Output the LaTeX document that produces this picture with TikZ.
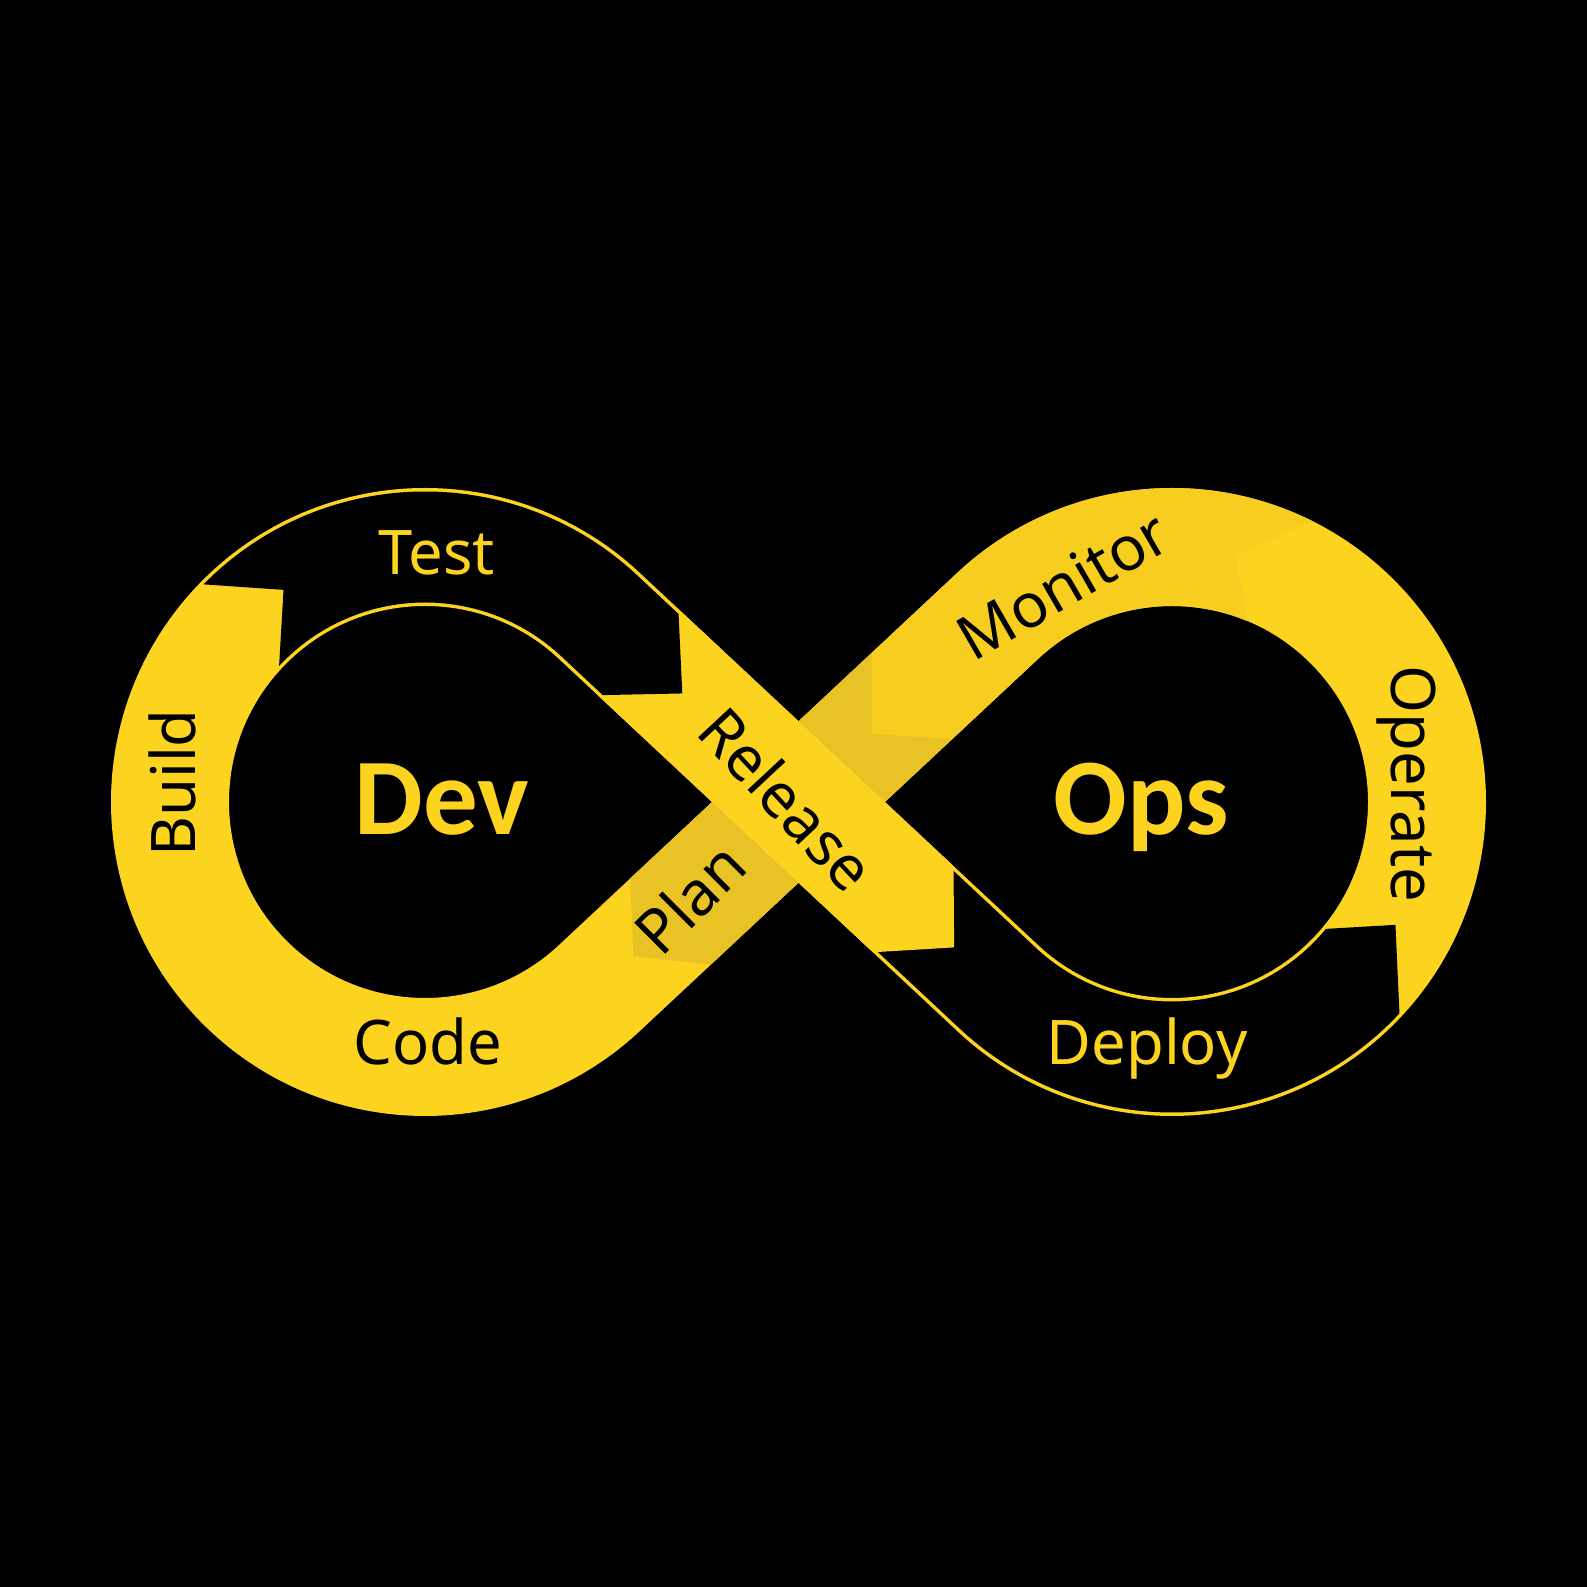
\documentclass[tikz,border=0pt]{standalone}
\usepackage{fontspec}
\setmainfont{Noto Sans}
\newfontfamily\namefont{Carlito}
\usetikzlibrary{calc}
\definecolor{devyellow}{RGB}{252,211,30}
\definecolor{plandark}{RGB}{233,194,38}
\definecolor{monshade}{RGB}{247,206,32}
\tikzstyle{band} = [line width=1.18cm, draw=devyellow]
\tikzstyle{stage} = [font=\fontsize{17.5}{21}\selectfont, text=black, inner sep=0pt]
\tikzstyle{darkstage} = [font=\fontsize{17.5}{21}\selectfont, text=devyellow, inner sep=0pt]
\tikzstyle{loopname} = [font=\namefont\bfseries\fontsize{31}{36}\selectfont, text=devyellow, inner sep=0pt]

\begin{document}
\begin{tikzpicture}

% Background
\fill[black] (0,0) rectangle (15.87,15.87);
\useasboundingbox (0,0) rectangle (15.87,15.87);

% Centres of the two loops and the crossing
\coordinate (c1) at (4.25,7.85);
\coordinate (c2) at (11.72,7.85);
\coordinate (x) at (7.985,7.85);

% Infinity band
\draw[band] (x) -- ($(c1)+(46.95:2.55)$) arc[start angle=46.95, end angle=313.05, radius=2.55]
  -- (x) -- ($(c2)+(133.05:2.55)$) arc[start angle=133.05, end angle=-133.05, radius=2.55] -- cycle;

% Plan piece (under Release)
\fill[plandark] ($(x)+(43.05:1.55)+(133.05:0.59)$) -- ($(x)+(223.05:1.75)+(133.05:0.59)$)
  -- ($(x)+(223.05:2.26)$) -- ($(x)+(223.05:1.75)+(313.05:0.59)$)
  -- ($(x)+(43.05:1.55)+(313.05:0.59)$) -- cycle;

% Monitor piece
\fill[monshade] ($(x)+(43.05:1.55)+(133.05:0.59)$) -- ($(x)+(43.05:1.0)$)
  -- ($(x)+(43.05:1.55)+(313.05:0.59)$) -- ($(c2)+(133.05:1.96)$)
  arc[start angle=133.05, end angle=67.1, radius=1.96] -- ($(c2)+(75.7:2.55)$)
  -- ($(c2)+(63.4:3.14)$) arc[start angle=63.4, end angle=133.05, radius=3.14] -- cycle;

% Deploy piece (black, outlined)
\fill[black] ($(x)+(-43.05:1.5)+(46.95:0.555)$) -- ($(c2)+(226.95:1.995)$)
  arc[start angle=226.95, end angle=320.5, radius=1.995] -- ($(c2)+(-28.8:2.55)$)
  -- ($(c2)+(317.1:3.105)$) arc[start angle=317.1, end angle=226.95, radius=3.105]
  -- ($(x)+(-43.05:1.5)+(226.95:0.555)$) -- cycle;

% Release piece
\fill[devyellow] ($(x)+(136.95:2.2)+(46.95:0.59)$) -- ($(x)+(-43.05:1.57)+(46.95:0.59)$)
  -- ($(x)+(-43.05:2.13)$) -- ($(x)+(-43.05:1.57)+(226.95:0.59)$)
  -- ($(x)+(136.95:2.2)+(226.95:0.59)$) -- cycle;

% Test piece (black, outlined)
\fill[black] ($(c1)+(135.5:3.105)$) arc[start angle=135.5, end angle=46.95, radius=3.105]
  -- ($(x)+(136.95:2.16)+(46.95:0.555)$) -- ($(x)+(136.95:1.59)$)
  -- ($(x)+(136.95:2.16)+(226.95:0.555)$) -- ($(c1)+(46.95:1.995)$)
  arc[start angle=46.95, end angle=137, radius=1.995] -- ($(c1)+(123.7:2.55)$) -- cycle;

% Labels
\node[darkstage, anchor=base] (test) at (4.37,10.12) {Test};
\node[stage, anchor=base, rotate=90] (build) at (1.95,8.04) {Build};
\node[stage, anchor=base] (code) at (4.28,5.22) {Code};
\node[stage, rotate=45] (plan) at (6.90,6.89) {Plan};
\node[stage, rotate=-47] (release) at (7.87,7.88) {Release};
\node[stage, rotate=30] (monitor) at (10.63,10.02) {Monitor};
\node[stage, anchor=base, rotate=-90] (operate) at (13.91,8.03) {Operate};
\node[darkstage, anchor=base] (deploy) at (11.47,5.22) {Deploy};
\node[loopname, anchor=base] (dev) at (4.42,7.52) {Dev};
\node[loopname, anchor=base] (ops) at (11.41,7.52) {Ops};

\end{tikzpicture}
\end{document}
